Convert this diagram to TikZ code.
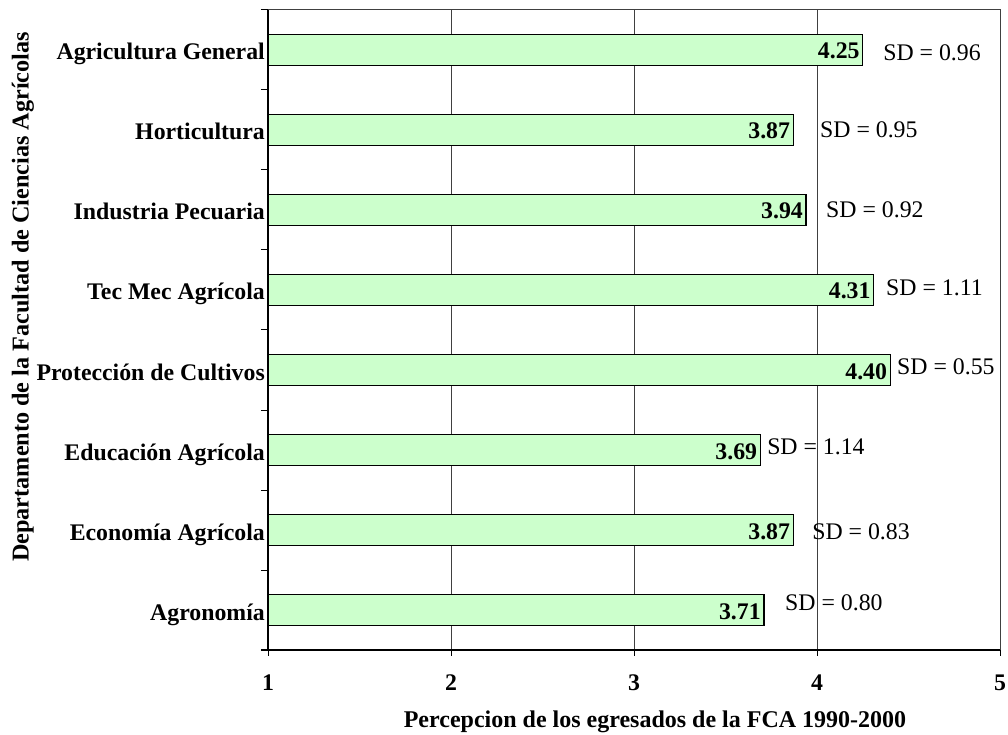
\documentclass[tikz,border=0pt]{standalone}
\usepackage{fontspec}
\setmainfont{Liberation Serif}
\usepackage{xcolor}
\definecolor{barfill}{RGB}{204,255,204}

\begin{document}
\begin{tikzpicture}[x=183pt, y=80pt,
        labeltext/.style={inner sep=0pt, font=\fontsize{23.8}{28}\selectfont},
        boldtext/.style={labeltext, font=\fontsize{23.8}{28}\selectfont\bfseries}]
        \useasboundingbox (-1.46448, -1.05) rectangle (4.04372, 8.125);

        % grid and frame
        \foreach \v in {1,2,3} {
            \draw [line width=0.9pt, draw=black!75] (\v, 0) -- (\v, 8);
        }
        \draw [line width=1pt, draw=black!75] (-0.0383, 8) -- (4, 8) -- (4, 0);

        % bars, values and deviations
        \foreach \i/\name/\val/\sdx/\sdy/\sd in {
                8/Agricultura General/4.25/3.361/7.4625/0.96,
                7/Horticultura\ /3.87/3.016/6.5/0.95,
                6/Industria Pecuaria/3.94/3.049/5.5/0.92,
                5/Tec Mec Agrícola/4.31/3.377/4.525/1.11,
                4/Protección de Cultivos/4.40/3.437/3.5375/0.55,
                3/Educación Agrícola/3.69/2.727/2.5375/1.14,
                2/Economía Agrícola/3.87/2.973/1.475/0.83,
                1/Agronomía\ /3.71/2.825/0.5875/0.80} {
            \filldraw [fill=barfill, line width=1.2pt] (0, \i-0.5-0.19) rectangle (\val-1, \i-0.5+0.19);
            \coordinate (end\i) at (\val-1, \i-0.5);
            \node [boldtext, anchor=base east, xshift=-3pt, yshift=-9pt] (val\i) at (end\i) {\val};
            \node [boldtext, anchor=base east, yshift=-10pt] (cat\i) at (-0.0164, \i-0.5) {\name};
            \node [labeltext, anchor=west] (sd\i) at (\sdx, \sdy) {SD = \sd};
        }

        % axes
        \foreach \k in {0,...,8} {
            \draw [line width=1pt] (-0.0383, \k) -- (0, \k);
        }
        \foreach \v in {0,...,4} {
            \draw [line width=1pt] (\v, 0) -- (\v, -0.075);
            \node [boldtext, anchor=base] (tick\v) at (\v, -0.5) {\pgfmathparse{int(\v+1)}\pgfmathresult};
        }
        \draw [line width=1.6pt] (0, 8) -- (0, 0);
        \draw [line width=1.8pt] (-0.0383, 0) -- (4, 0);

        \node [boldtext, anchor=base, font=\fontsize{24}{28}\selectfont\bfseries] (xtitle) at (2.1148, -0.9625) {Percepcion de los egresados de la FCA 1990-2000};
        \node [boldtext, rotate=90, font=\fontsize{24.2}{28}\selectfont\bfseries] (ytitle) at (-1.3388, 4.4125) {Departamento de la Facultad de Ciencias Agrícolas};
    \end{tikzpicture}
\end{document}
